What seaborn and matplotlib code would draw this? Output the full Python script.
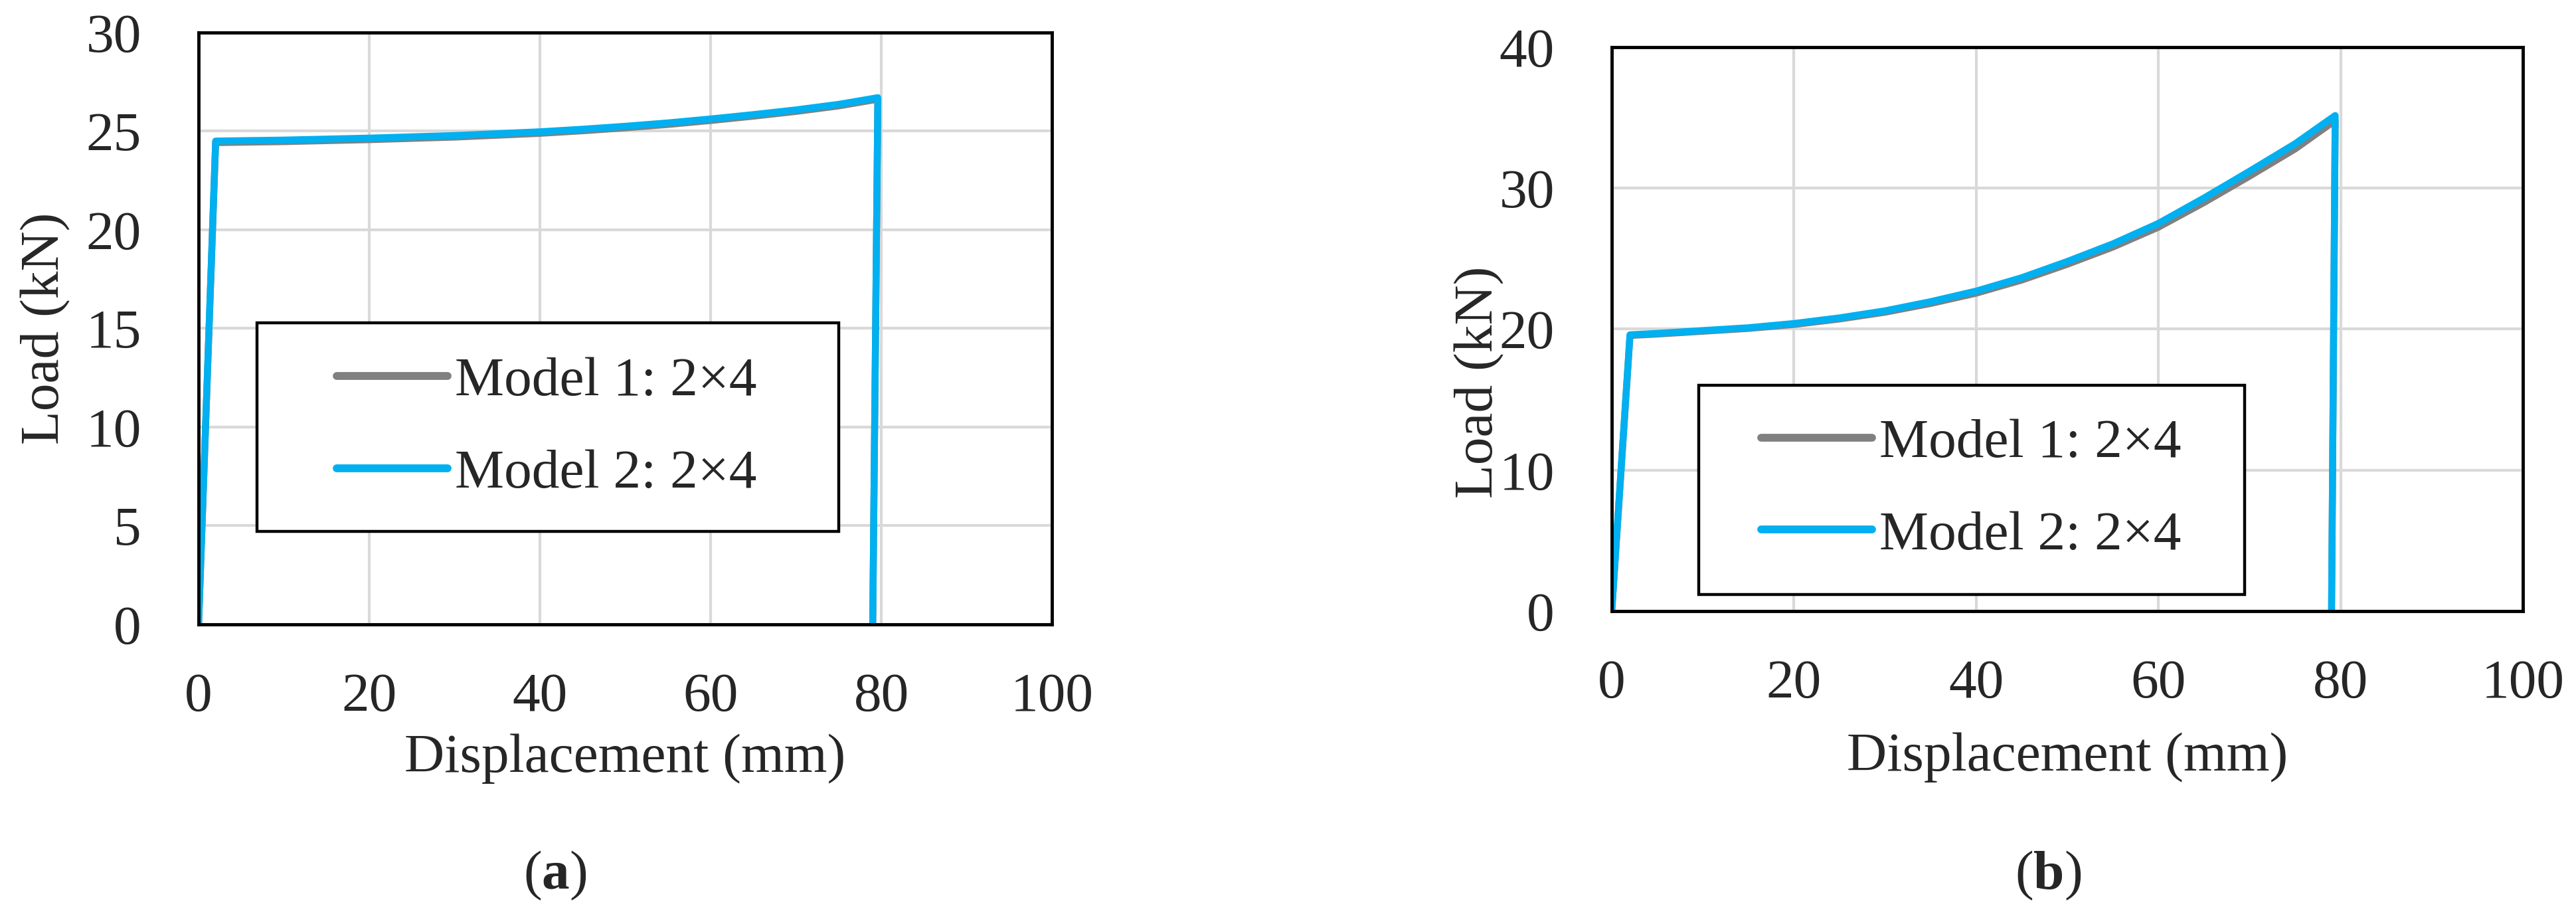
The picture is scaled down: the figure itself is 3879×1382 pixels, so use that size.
import numpy as np
import pandas as pd
import matplotlib
matplotlib.use("Agg")
import matplotlib.pyplot as plt
from matplotlib.patches import Rectangle
import seaborn as sns

# ---------------- data ----------------
# Panel (a)
disp_a = [0, 2.0, 10, 20, 30, 40, 45, 50, 55, 60, 65, 70, 75, 79.6, 79.0]
load_a_m2 = [0, 24.5, 24.55, 24.65, 24.78, 24.97, 25.1, 25.25, 25.42, 25.62, 25.84, 26.08, 26.36, 26.7, 0]
load_a_m1 = [0, 24.42, 24.47, 24.57, 24.7, 24.89, 25.02, 25.17, 25.34, 25.54, 25.76, 26.0, 26.28, 26.62, 0]

# Panel (b)
disp_b = [0, 2.0, 5, 10, 15, 20, 25, 30, 35, 40, 45, 50, 55, 60, 65, 70, 75, 79.4, 79.0]
load_b_m2 = [0, 19.6, 19.7, 19.9, 20.1, 20.4, 20.8, 21.3, 21.95, 22.7, 23.65, 24.8, 26.05, 27.5, 29.3, 31.2, 33.15, 35.15, 0]
load_b_m1 = [0, 19.55, 19.65, 19.85, 20.05, 20.33, 20.72, 21.2, 21.82, 22.55, 23.48, 24.6, 25.82, 27.23, 28.98, 30.85, 32.78, 34.8, 0]

series_names = ["Model 1: 2\u00d74", "Model 2: 2\u00d74"]
series_colors = ["#808080", "#00B0F0"]

x_ticks = [0, 20, 40, 60, 80, 100]
y_ticks_a = [0, 5, 10, 15, 20, 25, 30]
y_ticks_b = [0, 10, 20, 30, 40]
x_label = "Displacement (mm)"
y_label = "Load (kN)"
panel_labels = [r"($\mathbf{a}$)", r"($\mathbf{b}$)"]

# ---------------- style ----------------
sns.set_style("white")
plt.rcParams["font.family"] = ["Liberation Serif", "DejaVu Serif"]
plt.rcParams["mathtext.fontset"] = "custom"
plt.rcParams["mathtext.rm"] = "Liberation Serif"
plt.rcParams["mathtext.bf"] = "Liberation Serif:bold"

FS = 60
LW = 7.5

fig = plt.figure(figsize=(38.8, 13.82), dpi=100)
ax_a = fig.add_axes([0.07706, 0.31983, 0.33119, 0.64472])
ax_b = fig.add_axes([0.62552, 0.33430, 0.35361, 0.61433])


def draw_panel(ax, disp, loads, yticks, ymax, ylabel_xy, xlabel_y, leg_anchor, frame):
    for name, col, ld in zip(series_names, series_colors, loads):
        df = pd.DataFrame({"disp": disp, "load": ld})
        sns.lineplot(data=df, x="disp", y="load", ax=ax, color=col, lw=LW,
                     sort=False, estimator=None, label=name,
                     solid_joinstyle="round", solid_capstyle="butt")
    ax.set_xlim(0, 100)
    ax.set_ylim(0, ymax)
    ax.set_xticks(x_ticks)
    ax.set_yticks(yticks)
    ax.grid(True, color="#d9d9d9", lw=3)
    ax.set_axisbelow(True)
    for s in ax.spines.values():
        s.set_visible(True)
        s.set_color("black")
        s.set_linewidth(3.5)
    ax.tick_params(axis="x", length=0, labelsize=FS, pad=52)
    ax.tick_params(axis="y", length=0, labelsize=FS, pad=62)
    ax.set_xlabel(x_label, fontsize=FS, va="top")
    ax.set_ylabel(y_label, fontsize=FS)
    ax.xaxis.set_label_coords(0.5, xlabel_y)
    ax.yaxis.set_label_coords(*ylabel_xy)

    # legend box
    rect = Rectangle((frame[0], frame[1]), frame[2], frame[3], transform=ax.transAxes,
                     facecolor="white", edgecolor="black", lw=3.2, zorder=3)
    ax.add_patch(rect)
    handles, labels = ax.get_legend_handles_labels()
    leg = ax.legend(handles, labels, loc="center left", bbox_to_anchor=leg_anchor,
                    frameon=False, fontsize=FS, borderpad=0, borderaxespad=0,
                    handlelength=2.0, handletextpad=0.13, labelspacing=0.75)
    leg.set_zorder(5)
    for h in leg.get_lines():
        h.set_linewidth(8.5)
        h.set_solid_capstyle("round")


draw_panel(ax_a, disp_a, [load_a_m1, load_a_m2], y_ticks_a, 30,
           (-0.150, 0.5), -0.185, (0.1619, 0.3316),
           (0.0685, 0.1571, 0.6817, 0.3524))
draw_panel(ax_b, disp_b, [load_b_m1, load_b_m2], y_ticks_b, 40,
           (-0.118, 0.406), -0.2155, (0.164, 0.2155),
           (0.0955, 0.02945, 0.5991, 0.371))

fig.text(0.2155, 0.0463, panel_labels[0], fontsize=FS, ha="center", va="center")
fig.text(0.795, 0.0463, panel_labels[1], fontsize=FS, ha="center", va="center")

fig.savefig("out.png", dpi=100, facecolor="white")
